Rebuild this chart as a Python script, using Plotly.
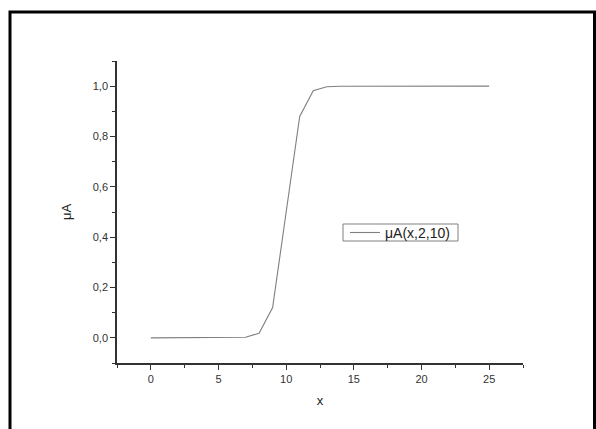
import plotly.graph_objects as go

# membership values μA(x, 2, 10) sampled at integer x
x_vals = list(range(0, 26))
mu_vals = [0.0, 0.0, 0.0, 0.0, 0.0, 0.0, 0.0003, 0.0025, 0.018, 0.12,
           0.5, 0.88, 0.982, 0.9975, 0.9997, 1.0, 1.0, 1.0, 1.0, 1.0,
           1.0, 1.0, 1.0, 1.0, 1.0, 1.0]
series_name = "μA(x,2,10)"

W, H = 596, 429
L, R, T, B = 117, 73, 61, 66
pw, ph = W - L - R, H - T - B
FONT = "Liberation Sans, Arial"
LINE_COLOR = "#7f7f7f"

def px_to_paper(px, py):
    return (px - L) / pw, (H - B - py) / ph

fig = go.Figure()
fig.add_trace(go.Scatter(
    x=x_vals, y=mu_vals, mode="lines", name=series_name,
    line=dict(color=LINE_COLOR, width=1.1), showlegend=False,
))

axis_common = dict(
    showgrid=False, zeroline=False, showline=True,
    linecolor="#333333", linewidth=1.5,
    ticks="outside", ticklen=5, tickwidth=1.2, tickcolor="#333333",
    tickfont=dict(family=FONT, size=11, color="#333333"),
    mirror=False,
)

fig.update_layout(
    width=W, height=H,
    margin=dict(l=L, r=R, t=T, b=B),
    paper_bgcolor="white", plot_bgcolor="white",
    separators=", ",
    showlegend=False,
    xaxis=dict(
        axis_common, range=[-2.5, 27.5], dtick=5, tick0=0,
        minor=dict(dtick=2.5, tick0=0, ticks="outside", ticklen=3,
                   tickcolor="#333333", tickwidth=1.2),
        title=dict(text="x", font=dict(family=FONT, size=13, color="#222222"),
                   standoff=12),
    ),
    yaxis=dict(
        axis_common, range=[-0.1, 1.1], dtick=0.2, tick0=0, tickformat=".1f",
        minor=dict(dtick=0.1, tick0=0, ticks="outside", ticklen=3,
                   tickcolor="#333333", tickwidth=1.2),
        title=dict(text="μA", font=dict(family=FONT, size=13, color="#222222"),
                   standoff=18),
    ),
)

# legend box drawn inside the plot area
bx0, by0 = px_to_paper(343, 241)
bx1, by1 = px_to_paper(458, 224)
fig.add_shape(type="rect", xref="paper", yref="paper",
              x0=bx0, y0=by0, x1=bx1, y1=by1,
              line=dict(color="#808080", width=1), fillcolor="white", layer="above")
lx0, ly = px_to_paper(350, 232.5)
lx1, _ = px_to_paper(380, 232.5)
fig.add_shape(type="line", xref="paper", yref="paper",
              x0=lx0, y0=ly, x1=lx1, y1=ly,
              line=dict(color=LINE_COLOR, width=1.1), layer="above")
tx, _ = px_to_paper(383, 232.5)
fig.add_annotation(xref="paper", yref="paper", x=tx, y=ly,
                   xanchor="left", yanchor="middle", showarrow=False,
                   text=series_name,
                   font=dict(family=FONT, size=14, color="#222222"))

# black frame around the whole figure
x0, y0 = px_to_paper(10, 440)
x1, y1 = px_to_paper(594.5, 12)
fig.add_shape(type="rect", xref="paper", yref="paper",
              x0=x0, y0=y0, x1=x1, y1=y1,
              line=dict(color="black", width=3), layer="above")

fig.write_html("out.html")
